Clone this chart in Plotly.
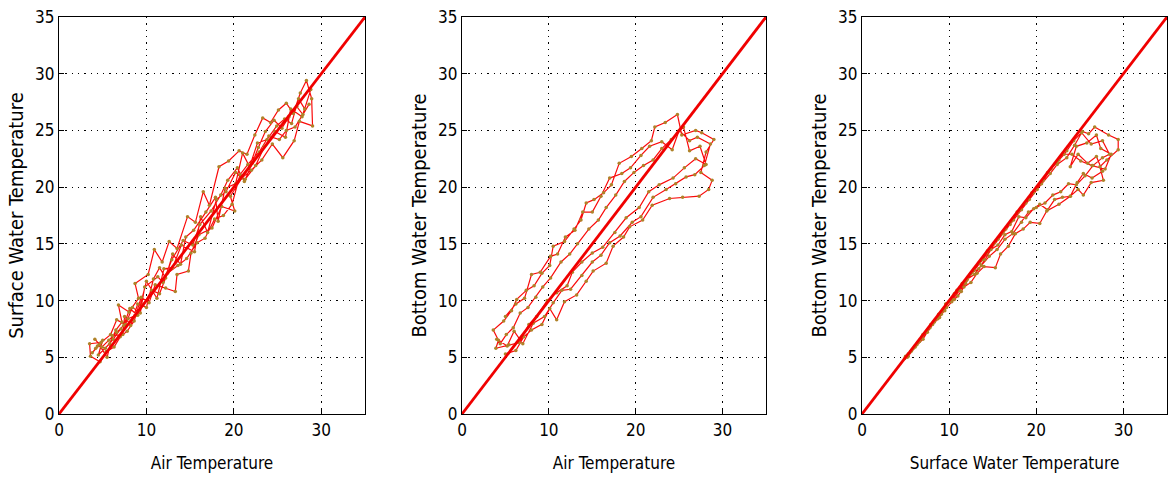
import plotly.graph_objects as go

# Panel 1: Air temperature vs Surface water temperature
air_1 = [4.2, 5.0, 4.5, 5.8, 6.5, 7.2, 6.8, 8.0, 9.1, 8.7, 10.2, 10.9, 11.8, 12.6, 13.5, 14.7, 15.6, 16.5, 17.2, 18.3,
         19.4, 20.6, 21.5, 22.4, 23.3, 24.2, 25.1, 26.0, 26.8, 27.6, 28.3, 28.9, 29.0, 27.5, 26.9, 25.6, 24.4, 23.2, 22.0, 20.9,
         19.6, 20.1, 18.6, 17.5, 16.0, 15.1, 14.8, 13.5, 13.3, 12.2, 11.0, 10.3, 9.4, 8.6, 7.8, 7.0, 6.3, 5.4, 4.7, 3.6,
         3.5, 4.8, 5.9, 6.6, 7.6, 8.4, 9.3, 9.8, 11.3, 11.9, 12.9, 14.2, 15.3, 16.1, 17.4, 18.5, 19.3, 20.4, 21.2, 22.1,
         22.8, 23.6, 24.6, 25.5, 26.3, 27.2, 27.9, 28.6, 27.0, 26.0, 25.2, 24.0, 22.9, 21.6, 20.7, 19.8, 18.8, 17.8, 16.7, 15.8,
         14.6, 13.6, 12.4, 11.5, 10.6, 9.6, 8.8, 7.9, 7.1, 6.2, 5.3, 4.4,
         3.8, 4.6, 5.5, 6.1, 7.3, 7.5, 8.2, 9.0, 10.0, 10.8, 11.5, 12.2, 13.0, 13.9, 14.5, 15.4, 16.8, 17.9, 18.2, 19.0,
         20.2, 21.0, 21.8, 22.7, 23.8, 24.9, 25.8, 26.6, 27.4, 28.1, 28.8, 27.8, 26.5, 25.9, 24.7, 23.5, 22.5, 21.3, 20.2, 19.1,
         18.0, 17.0, 16.2, 15.5, 14.0, 13.0, 12.0, 11.2, 10.0, 9.0, 8.1, 7.4, 6.6, 5.7, 4.9, 4.1]
surf_1 = [5.8, 6.5, 5.2, 6.2, 7.4, 8.1, 9.6, 9.0, 10.2, 11.5, 12.3, 14.5, 13.4, 15.2, 14.6, 17.4, 16.9, 19.6, 18.4, 21.8,
          22.3, 23.2, 22.9, 24.6, 26.1, 25.7, 26.8, 27.4, 26.5, 28.3, 29.4, 27.8, 25.4, 25.8, 24.1, 22.6, 23.8, 22.4, 21.5, 20.8,
          19.2, 17.9, 18.3, 16.4, 15.8, 14.2, 12.6, 12.3, 10.8, 11.1, 11.4, 9.8, 10.3, 8.2, 7.3, 6.8, 5.9, 5.5, 4.6, 5.1,
          6.2, 6.3, 7.0, 8.3, 7.9, 9.4, 8.9, 11.2, 12.1, 11.6, 13.6, 15.3, 14.9, 16.7, 17.9, 19.3, 20.6, 21.7, 20.5, 22.1,
          23.5, 24.9, 25.9, 25.2, 26.2, 27.1, 26.4, 27.3, 25.3, 25.0, 24.2, 24.5, 23.1, 22.0, 21.1, 18.5, 17.5, 17.2, 15.5, 15.1,
          13.7, 13.1, 12.4, 10.6, 10.9, 9.6, 8.7, 8.4, 7.5, 6.6, 5.8, 6.0,
          5.4, 6.1, 5.0, 6.9, 7.0, 8.6, 7.8, 9.7, 9.4, 11.9, 12.9, 12.0, 14.1, 13.2, 15.6, 16.2, 17.8, 19.1, 17.0, 19.9,
          20.3, 23.0, 21.8, 23.9, 24.2, 25.4, 26.0, 25.6, 27.8, 26.9, 28.6, 26.2, 26.9, 24.4, 24.9, 23.6, 21.9, 20.7, 21.3, 19.6,
          18.9, 16.0, 17.4, 14.3, 14.9, 12.9, 12.8, 10.2, 11.7, 8.7, 9.3, 7.8, 7.2, 6.5, 5.9, 6.6]

# Panel 2: Air temperature vs Bottom water temperature
air_2 = [5.0, 6.2, 7.1, 8.0, 9.2, 10.1, 10.9, 11.8, 13.2, 14.3, 15.1, 16.6, 17.4, 18.6, 19.3, 20.8, 21.9, 23.9, 25.4, 27.3,
         28.4, 28.8, 27.5, 28.1, 29.0, 27.6, 26.9, 25.3, 24.8, 23.4, 22.2, 21.8, 20.7, 19.5, 18.1, 17.2, 16.3, 15.2, 14.3, 13.7,
         12.9, 11.8, 10.5, 10.1, 9.2, 8.3, 7.4, 6.3, 5.7, 4.8, 3.6, 4.2, 3.9,
         5.4, 6.6, 7.7, 8.6, 9.8, 10.9, 12.1, 12.7, 13.8, 15.0, 16.2, 17.6, 18.9, 20.4, 21.5, 22.7, 24.3, 25.6, 26.9, 28.1,
         27.4, 26.2, 25.5, 24.1, 23.0, 22.0, 20.9, 19.8, 18.7, 17.7, 16.6, 15.7, 14.6, 13.3, 12.4, 11.4, 10.2, 9.3, 8.5, 7.6,
         6.7, 5.9, 5.1, 4.4,
         4.0, 5.2, 6.0, 7.0, 8.2, 9.5, 10.5, 11.5, 12.5, 13.8, 15.0, 16.0, 17.0, 18.2, 19.6, 20.6, 22.0, 23.5, 24.6, 25.8,
         26.8, 27.9, 28.6, 27.1, 26.2, 25.0, 24.2, 23.0, 21.6, 20.6, 19.4, 18.4, 17.0, 16.0, 15.0, 13.9, 13.0, 11.9, 11.0, 10.2,
         9.0, 8.0, 7.2, 6.2, 5.0]
bott_2 = [5.3, 5.6, 6.8, 7.4, 7.9, 9.3, 8.3, 9.9, 10.5, 11.7, 12.6, 13.3, 14.8, 15.6, 16.5, 17.1, 18.4, 19.0, 19.1, 19.2,
          19.8, 20.6, 21.3, 23.1, 24.2, 24.8, 25.0, 24.6, 26.4, 25.7, 25.3, 24.1, 23.4, 22.7, 22.1, 20.2, 19.5, 18.9, 18.6, 17.1,
          16.3, 15.2, 14.8, 13.1, 12.4, 11.3, 10.9, 10.1, 9.1, 8.2, 7.4, 6.5, 5.8,
          6.1, 6.3, 7.9, 8.6, 10.0, 10.7, 11.3, 12.5, 13.4, 14.2, 14.7, 16.0, 17.3, 18.2, 19.6, 20.2, 20.8, 21.7, 22.5, 22.0,
          23.6, 23.2, 25.3, 24.2, 23.4, 22.4, 21.9, 21.3, 20.5, 19.3, 18.2, 17.1, 16.3, 15.0, 14.1, 13.4, 12.0, 11.2, 10.3, 9.4,
          8.9, 7.6, 7.0, 6.2,
          6.6, 6.0, 7.3, 6.2, 8.0, 8.6, 9.8, 10.9, 11.0, 12.2, 13.4, 14.0, 15.1, 15.7, 16.9, 17.4, 19.1, 19.8, 20.3, 20.9,
          21.1, 21.9, 23.8, 24.4, 24.1, 25.0, 23.3, 24.0, 23.6, 22.8, 21.7, 21.2, 20.8, 19.2, 17.8, 17.8, 16.2, 15.6, 14.1, 13.9,
          12.5, 12.3, 10.2, 9.7, 8.6]

# Panel 3: Surface water temperature vs Bottom water temperature
surf_3 = [4.9, 5.6, 6.3, 6.9, 7.5, 8.3, 9.1, 9.6, 10.4, 11.2, 11.9, 12.5, 13.4, 14.1, 14.8, 15.6, 16.4, 17.2, 18.0, 18.8,
          19.7, 20.4, 21.3, 22.1, 23.0, 23.9, 24.8, 25.4, 26.3, 27.7, 27.3, 28.1, 29.4, 29.4, 28.3, 26.7, 26.0, 25.3, 24.3, 23.5,
          22.6, 21.7, 20.8, 20.1, 19.2, 18.3, 17.4, 16.5, 15.6, 14.7, 13.8, 12.9, 12.0, 11.1, 10.2, 9.3, 8.4, 7.5, 6.6, 5.7,
          5.0, 5.3, 6.1, 7.0, 7.8, 8.7, 9.5, 10.3, 11.0, 11.7, 12.5, 13.2, 14.0, 15.3, 15.9, 16.8, 17.6, 18.5, 19.3, 20.4,
          21.2, 22.6, 23.9, 24.7, 25.4, 26.4, 27.6, 26.9, 25.9, 24.8, 23.9, 24.6, 25.8, 26.9, 27.4, 28.6, 27.9, 26.4, 25.1, 24.1,
          23.2, 22.4, 21.3, 20.5, 19.5, 18.7, 17.8, 17.0, 16.0, 15.1, 14.3, 13.5, 12.6, 11.8, 10.9, 10.0, 9.1, 8.2, 7.3, 6.4, 5.6,
          5.2, 5.9, 6.6, 7.4, 8.1, 8.9, 9.7, 10.6, 11.4, 12.1, 12.9, 13.7, 14.6, 15.5, 16.4, 17.3, 18.3, 19.1, 20.0, 21.0,
          21.9, 22.8, 23.7, 24.6, 25.6, 26.5, 27.6, 28.4, 27.6, 26.3, 25.2, 24.4, 23.5, 22.4, 21.6, 20.6, 19.7, 18.8, 17.9, 17.1,
          16.2, 15.2, 14.4, 13.4, 12.4, 11.5, 10.6, 9.7, 8.8, 7.9, 7.0, 6.1, 5.3]
bott_3 = [4.9, 5.5, 6.1, 6.8, 7.2, 8.1, 8.8, 9.7, 10.1, 10.9, 11.5, 12.4, 12.8, 13.6, 14.5, 14.9, 15.8, 16.1, 17.4, 17.3,
          18.1, 18.5, 18.0, 18.9, 19.1, 19.2, 19.8, 19.3, 20.4, 20.6, 21.8, 22.4, 23.3, 24.2, 24.6, 25.3, 24.7, 24.9, 24.1, 23.2,
          22.4, 21.6, 20.6, 19.8, 18.9, 18.0, 17.1, 16.3, 15.4, 14.5, 13.6, 12.7, 11.8, 10.9, 10.1, 9.2, 8.3, 7.4, 6.5, 5.6,
          5.1, 5.1, 5.9, 6.6, 7.6, 8.4, 9.1, 9.9, 10.4, 11.2, 11.6, 12.4, 13.0, 12.9, 14.1, 14.8, 15.9, 16.3, 16.9, 16.8,
          17.9, 18.5, 19.2, 20.4, 21.2, 20.8, 21.4, 22.7, 22.1, 22.9, 21.8, 23.6, 23.9, 24.6, 23.4, 22.9, 21.6, 21.9, 22.3, 22.9,
          22.9, 22.2, 21.3, 20.3, 19.5, 18.6, 17.8, 16.7, 15.9, 15.0, 14.2, 13.3, 12.5, 11.6, 10.9, 9.9, 9.0, 8.1, 7.2, 6.3, 5.5,
          5.0, 5.8, 6.4, 7.2, 7.9, 8.5, 9.4, 10.1, 10.8, 11.9, 12.3, 13.1, 13.9, 14.5, 15.4, 15.9, 16.9, 17.8, 18.2, 18.6,
          19.3, 19.6, 20.3, 20.2, 21.0, 21.9, 22.6, 22.9, 24.1, 23.8, 24.8, 23.7, 22.6, 22.0, 21.2, 20.3, 19.5, 18.6, 17.8, 17.0,
          16.1, 15.1, 14.4, 13.3, 12.3, 11.5, 10.6, 9.7, 8.8, 7.9, 7.0, 6.0, 5.3]

ref_line = [0, 35]
tick_vals_x = [0, 10, 20, 30]
tick_vals_y = [0, 5, 10, 15, 20, 25, 30, 35]

x_titles = ["Air Temperature", "Air Temperature", "Surface Water Temperature"]
y_titles = ["Surface Water Temperature", "Bottom Water Temperature", "Bottom Water Temperature"]
panels = [(air_1, surf_1), (air_2, bott_2), (surf_3, bott_3)]

x_domains = [[59 / 1174, 365 / 1174], [462 / 1174, 766 / 1174], [862 / 1174, 1167 / 1174]]
y_domain = [1 - 414 / 484, 1 - 17 / 484]

FONT = "Liberation Sans Narrow, DejaVu Sans Condensed, Arial, sans-serif"

fig = go.Figure()
for i, (xs, ys) in enumerate(panels):
    xa = "x" if i == 0 else f"x{i + 1}"
    ya = "y" if i == 0 else f"y{i + 1}"
    fig.add_trace(go.Scatter(
        x=xs, y=ys, xaxis=xa, yaxis=ya, mode="lines+markers",
        line=dict(color="rgb(250,10,10)", width=1.2),
        marker=dict(color="rgb(175,130,40)", size=3.5),
        showlegend=False, hoverinfo="skip"))
    fig.add_trace(go.Scatter(
        x=ref_line, y=ref_line, xaxis=xa, yaxis=ya, mode="lines",
        line=dict(color="rgb(240,0,0)", width=2.8),
        showlegend=False, hoverinfo="skip"))

axis_common = dict(
    range=[0, 35], showline=True, mirror=True, linecolor="black", linewidth=1.2,
    showgrid=True, gridcolor="black", griddash="1.3px,5px", gridwidth=1.4,
    zeroline=False, ticks="inside", ticklen=5, tickcolor="black",
    tickfont=dict(family=FONT, size=17, color="black"), automargin=False)

layout = dict(
    width=1174, height=484, margin=dict(l=0, r=0, t=0, b=0),
    paper_bgcolor="white", plot_bgcolor="white",
    font=dict(family=FONT, color="black"))

for i in range(3):
    sx = "" if i == 0 else str(i + 1)
    layout[f"xaxis{sx}"] = dict(
        axis_common, domain=x_domains[i], tickvals=tick_vals_x,
        anchor=f"y{sx}",
        title=dict(text=x_titles[i], font=dict(family=FONT, size=17), standoff=18))
    layout[f"yaxis{sx}"] = dict(
        axis_common, domain=y_domain, tickvals=tick_vals_y,
        anchor=f"x{sx}",
        title=dict(text=y_titles[i], font=dict(family=FONT, size=20), standoff=6))

fig.update_layout(**layout)
fig.write_html("out.html")
